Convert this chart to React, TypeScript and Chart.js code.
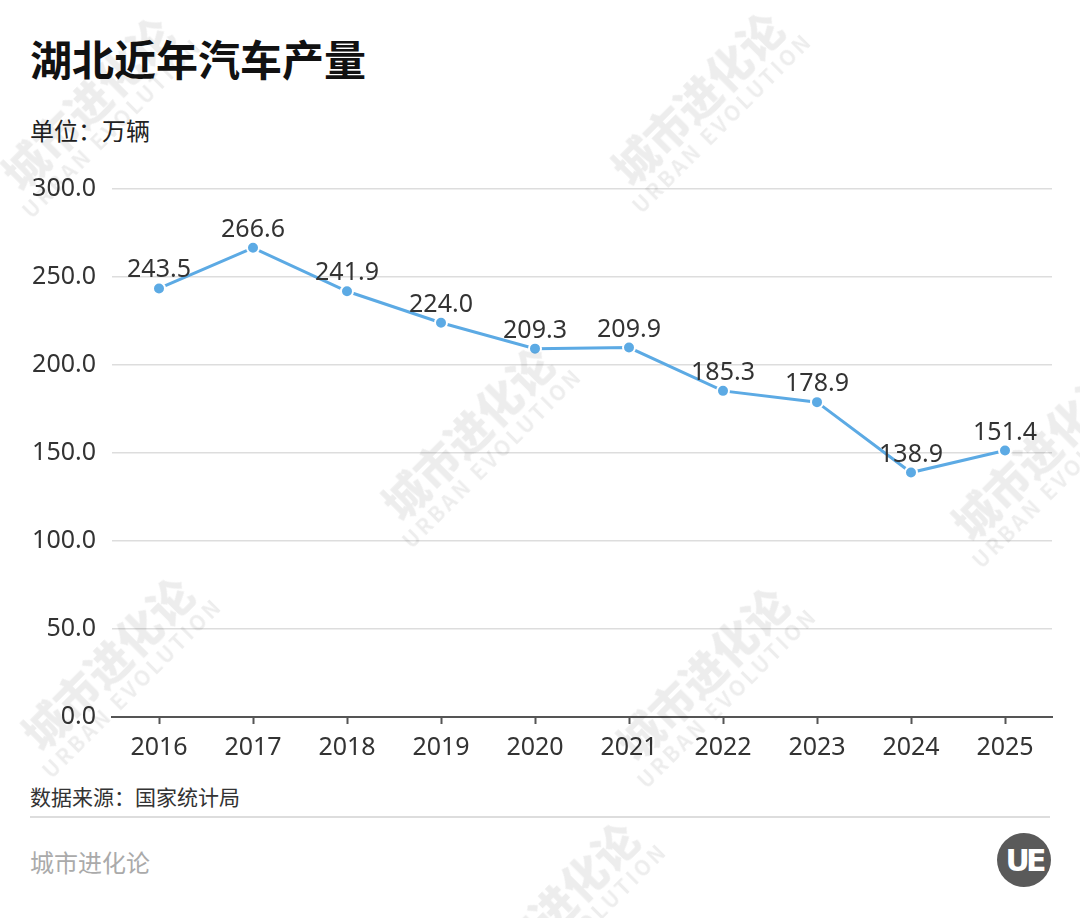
import React, { useEffect, useRef } from "react";
import { Chart, registerables } from "chart.js";

Chart.register(...registerables);

const categories = ["2016", "2017", "2018", "2019", "2020", "2021", "2022", "2023", "2024", "2025"];
const production = [243.5, 266.6, 241.9, 224.0, 209.3, 209.9, 185.3, 178.9, 138.9, 151.4];
const yTicks = [0, 50, 100, 150, 200, 250, 300];

const FONT = '"Noto Sans CJK SC", "Noto Sans", sans-serif';
const NUM_FONT = '"Noto Sans", "Noto Sans CJK SC", sans-serif';
const LINE_COLOR = "#5CAAE4";

const labelPlugin = {
  id: "valueLabels",
  afterDatasetsDraw(chart: any) {
    const ctx = chart.ctx;
    const meta = chart.getDatasetMeta(0);
    ctx.save();
    ctx.font = `25px ${NUM_FONT}`;
    ctx.fillStyle = "#333333";
    ctx.textAlign = "center";
    ctx.textBaseline = "alphabetic";
    meta.data.forEach((pt: any, i: number) => {
      ctx.fillText(production[i].toFixed(1), pt.x, pt.y - 11);
    });
    ctx.restore();
  },
};

const watermarks = [
  { x: 95, y: 120 },
  { x: 705, y: 115 },
  { x: 475, y: 450 },
  { x: 115, y: 680 },
  { x: 710, y: 690 },
  { x: 1045, y: 470 },
  { x: 560, y: 925 },
];

export default function App() {
  const canvasRef = useRef<HTMLCanvasElement | null>(null);

  useEffect(() => {
    document.body.style.margin = "0";
    const canvas = canvasRef.current;
    if (!canvas) return;
    const chart = new Chart(canvas, {
      type: "line",
      data: {
        labels: categories,
        datasets: [
          {
            data: production,
            borderColor: LINE_COLOR,
            backgroundColor: LINE_COLOR,
            borderWidth: 3,
            pointRadius: 6,
            pointBorderColor: "#ffffff",
            pointBorderWidth: 2,
            pointBackgroundColor: LINE_COLOR,
            tension: 0,
            fill: false,
          },
        ],
      },
      options: {
        animation: false,
        responsive: true,
        maintainAspectRatio: false,
        layout: { padding: { top: 9, right: 8, left: 0, bottom: 0 } },
        plugins: {
          legend: { display: false },
          tooltip: { enabled: false },
          title: { display: false },
        },
        scales: {
          x: {
            type: "category",
            offset: true,
            grid: {
              display: true,
              drawOnChartArea: false,
              drawTicks: true,
              tickLength: 7,
              tickColor: "#555555",
              tickWidth: 2,
            },
            border: { display: true, color: "#555555", width: 2 },
            ticks: {
              color: "#333333",
              font: { family: NUM_FONT, size: 25 },
              padding: 9,
              maxRotation: 0,
            },
            afterFit(scale: any) {
              scale.height = 50;
            },
          },
          y: {
            min: 0,
            max: 300,
            afterBuildTicks(scale: any) {
              scale.ticks = yTicks.map((v) => ({ value: v }));
            },
            grid: {
              color: "#dddddd",
              lineWidth: 1.5,
              drawTicks: false,
            },
            border: { display: false },
            ticks: {
              color: "#333333",
              font: { family: NUM_FONT, size: 25 },
              padding: 16,
              callback: (v: any) => Number(v).toFixed(1),
            },
            afterFit(scale: any) {
              scale.width = 92;
            },
          },
        },
      },
      plugins: [labelPlugin],
    });
    return () => chart.destroy();
  }, []);

  return (
    <div
      style={{
        position: "relative",
        width: 1080,
        height: 918,
        background: "#ffffff",
        overflow: "hidden",
        fontFamily: FONT,
      }}
    >
      {watermarks.map((w, i) => (
        <div
          key={i}
          style={{
            position: "absolute",
            left: w.x - 130,
            top: w.y - 45,
            width: 260,
            textAlign: "center",
            transform: "rotate(-45deg)",
            color: "rgba(0,0,0,0.07)",
            pointerEvents: "none",
            lineHeight: 1.1,
            zIndex: 2,
          }}
        >
          <div style={{ fontSize: 44, fontWeight: 900 }}>城市进化论</div>
          <div style={{ fontSize: 21, fontWeight: 700, letterSpacing: 3 }}>URBAN EVOLUTION</div>
        </div>
      ))}
      <div
        style={{
          position: "absolute",
          left: 30,
          top: 33,
          fontSize: 42,
          fontWeight: 700,
          color: "#111111",
          lineHeight: 1.2,
        }}
      >
        湖北近年汽车产量
      </div>
      <div
        style={{
          position: "absolute",
          left: 30,
          top: 114,
          fontSize: 24,
          color: "#222222",
          lineHeight: 1.3,
        }}
      >
        单位：万辆
      </div>
      <div
        style={{
          position: "absolute",
          left: 20,
          top: 158,
          width: 1040,
          height: 609,
        }}
      >
        <canvas ref={canvasRef} />
      </div>
      <div
        style={{
          position: "absolute",
          left: 30,
          top: 783,
          fontSize: 21,
          color: "#333333",
          lineHeight: 1.3,
        }}
      >
        数据来源：国家统计局
      </div>
      <div
        style={{
          position: "absolute",
          left: 30,
          top: 816,
          width: 1020,
          height: 2,
          background: "#dddddd",
        }}
      />
      <div
        style={{
          position: "absolute",
          left: 30,
          top: 846,
          fontSize: 24,
          color: "#aaaaaa",
          lineHeight: 1.3,
        }}
      >
        城市进化论
      </div>
      <div
        style={{
          position: "absolute",
          left: 997,
          top: 833,
          width: 54,
          height: 54,
          borderRadius: "50%",
          background: "#5a5a5a",
          color: "#ffffff",
          display: "flex",
          alignItems: "center",
          justifyContent: "center",
          fontSize: 30,
          fontWeight: 700,
          letterSpacing: -4,
          fontFamily: '"DejaVu Sans", sans-serif',
        }}
      >
        UE
      </div>
    </div>
  );
}
